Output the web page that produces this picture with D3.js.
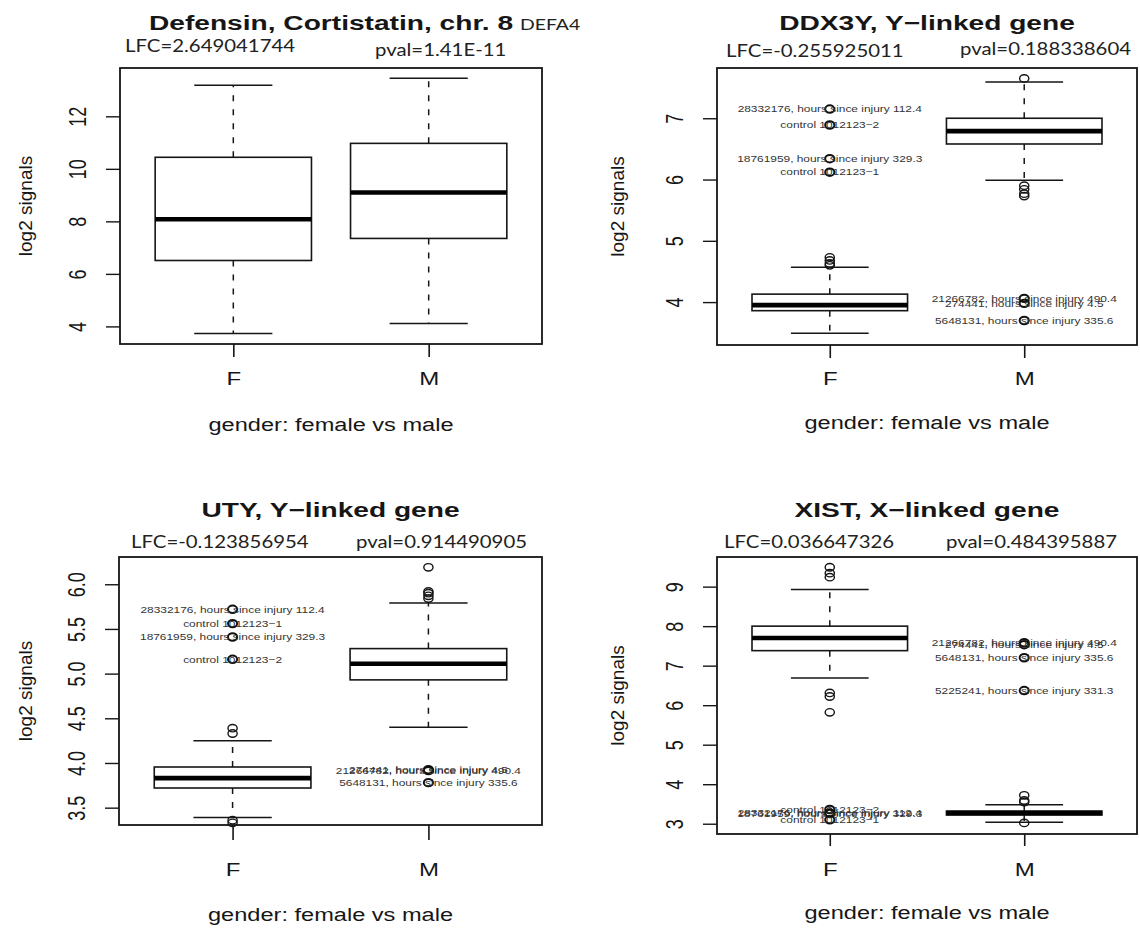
<!DOCTYPE html>
<html>
<head>
<meta charset="utf-8">
<script src="https://cdn.jsdelivr.net/npm/d3@7"></script>
<style>
  body { margin: 0; background: #fff; }
</style>
</head>
<body>
<svg id="fig" width="1140" height="928"></svg>
<script>
// ---------- data ----------
const groups = ["F", "M"];
const xAxisTitle = "gender: female vs male";
const yAxisTitle = "log2 signals";

// box statistics: [lower whisker, Q1, median, Q3, upper whisker]
const defensinTitle = "Defensin, Cortistatin, chr. 8";
const defensinGene = "DEFA4";
const defensinLFC = "LFC=2.649041744";
const defensinPval = "pval=1.41E-11";
const defensinF = [3.73, 6.51, 8.08, 10.44, 13.18];
const defensinM = [4.11, 7.35, 9.10, 10.97, 13.45];
const defensinOutF = [];
const defensinOutM = [];
const defensinTicks = [4, 6, 8, 10, 12];
const defensinTickLabels = ["4", "6", "8", "10", "12"];
const defensinLabelText = [];
const defensinLabelGroup = [];
const defensinLabelValue = [];

const ddx3yTitle = "DDX3Y, Y\u2212linked gene";
const ddx3yLFC = "LFC=-0.255925011";
const ddx3yPval = "pval=0.188338604";
const ddx3yF = [3.49, 3.86, 3.95, 4.13, 4.57];
const ddx3yM = [5.99, 6.58, 6.79, 7.00, 7.59];
const ddx3yOutF = [4.73, 4.68, 4.63, 4.60];
const ddx3yOutM = [7.65, 5.90, 5.84, 5.77, 5.73];
const ddx3yTicks = [4, 5, 6, 7];
const ddx3yTickLabels = ["4", "5", "6", "7"];
const ddx3yLabelText = [
  "28332176, hours since injury 112.4",
  "control 1012123\u22122",
  "18761959, hours since injury 329.3",
  "control 1012123\u22121",
  "21266782, hours since injury 490.4",
  "274441, hours since injury 4.5",
  "5648131, hours since injury 335.6"
];
const ddx3yLabelGroup = ["F", "F", "F", "F", "M", "M", "M"];
const ddx3yLabelValue = [7.15, 6.89, 6.34, 6.12, 4.06, 3.98, 3.70];

const utyTitle = "UTY, Y\u2212linked gene";
const utyLFC = "LFC=-0.123856954";
const utyPval = "pval=0.914490905";
const utyF = [3.39, 3.72, 3.83, 3.955, 4.25];
const utyM = [4.40, 4.93, 5.11, 5.28, 5.79];
const utyOutF = [4.39, 4.33, 3.36, 3.33];
const utyOutM = [6.19, 5.92, 5.90, 5.87, 5.84];
const utyTicks = [3.5, 4.0, 4.5, 5.0, 5.5, 6.0];
const utyTickLabels = ["3.5", "4.0", "4.5", "5.0", "5.5", "6.0"];
const utyLabelText = [
  "28332176, hours since injury 112.4",
  "control 1012123\u22121",
  "18761959, hours since injury 329.3",
  "control 1012123\u22122",
  "274441, hours since injury 4.5",
  "21266782, hours since injury 490.4",
  "5648131, hours since injury 335.6"
];
const utyLabelGroup = ["F", "F", "F", "F", "M", "M", "M"];
const utyLabelValue = [5.72, 5.56, 5.41, 5.16, 3.925, 3.915, 3.78];

const xistTitle = "XIST, X\u2212linked gene";
const xistLFC = "LFC=0.036647326";
const xistPval = "pval=0.484395887";
const xistF = [6.69, 7.38, 7.70, 8.00, 8.93];
const xistM = [3.04, 3.22, 3.27, 3.32, 3.48];
const xistOutF = [9.49, 9.34, 9.24, 6.31, 6.22, 5.82];
const xistOutM = [3.72, 3.59, 3.55, 3.02];
const xistTicks = [3, 4, 5, 6, 7, 8, 9];
const xistTickLabels = ["3", "4", "5", "6", "7", "8", "9"];
const xistLabelText = [
  "21266782, hours since injury 490.4",
  "274441, hours since injury 4.5",
  "5648131, hours since injury 335.6",
  "5225241, hours since injury 331.3",
  "control 1012123\u22122",
  "28332176, hours since injury 112.4",
  "18761959, hours since injury 329.3",
  "control 1012123\u22121"
];
const xistLabelGroup = ["M", "M", "M", "M", "F", "F", "F", "F"];
const xistLabelValue = [7.58, 7.53, 7.20, 6.37, 3.36, 3.27, 3.26, 3.10];

// ---------- layout ----------
const SANS = "'Liberation Sans', Arial, Helvetica, sans-serif";
const SOFT = "Lato, 'Open Sans', sans-serif";
const INK = "#161616";
const STRETCH = 1.3;   // horizontal widening of the plot lettering

const panels = [
  { title: defensinTitle, gene: defensinGene, lfc: defensinLFC, pval: defensinPval,
    stats: [defensinF, defensinM], out: [defensinOutF, defensinOutM],
    ticks: defensinTicks, tickLabels: defensinTickLabels,
    labText: defensinLabelText, labGroup: defensinLabelGroup, labValue: defensinLabelValue,
    box: { left: 120, right: 542, top: 68, bottom: 344 }, yDomain: [3.33, 13.84],
    titleY: 30, geneX: 520, lfcX: 125, lfcY: 52, pvalX: 375, pvalY: 56,
    xTick: 13, groupY: 384.5, xTitleY: 431, yTitleX: 32 },
  { title: ddx3yTitle, lfc: ddx3yLFC, pval: ddx3yPval,
    stats: [ddx3yF, ddx3yM], out: [ddx3yOutF, ddx3yOutM],
    ticks: ddx3yTicks, tickLabels: ddx3yTickLabels,
    labText: ddx3yLabelText, labGroup: ddx3yLabelGroup, labValue: ddx3yLabelValue,
    box: { left: 717, right: 1137, top: 68, bottom: 345 }, yDomain: [3.30, 7.82],
    titleY: 30, lfcX: 726, lfcY: 57, pvalX: 960, pvalY: 55,
    xTick: 13, groupY: 385, xTitleY: 429, yTitleX: 624 },
  { title: utyTitle, lfc: utyLFC, pval: utyPval,
    stats: [utyF, utyM], out: [utyOutF, utyOutM],
    ticks: utyTicks, tickLabels: utyTickLabels,
    labText: utyLabelText, labGroup: utyLabelGroup, labValue: utyLabelValue,
    box: { left: 119, right: 542, top: 557, bottom: 825 }, yDomain: [3.306, 6.305],
    titleY: 517, lfcX: 131, lfcY: 548, pvalX: 356, pvalY: 548,
    xTick: 15, groupY: 876, xTitleY: 921, yTitleX: 32 },
  { title: xistTitle, lfc: xistLFC, pval: xistPval,
    stats: [xistF, xistM], out: [xistOutF, xistOutM],
    ticks: xistTicks, tickLabels: xistTickLabels,
    labText: xistLabelText, labGroup: xistLabelGroup, labValue: xistLabelValue,
    box: { left: 717, right: 1137, top: 557, bottom: 834 }, yDomain: [2.74, 9.75],
    titleY: 517, lfcX: 724, lfcY: 548, pvalX: 946, pvalY: 548,
    xTick: 12, groupY: 876, xTitleY: 919, yTitleX: 624 }
];

const svg = d3.select("#fig");
svg.append("rect").attr("width", 1140).attr("height", 928).attr("fill", "#fff");

function label(g, str, x, y, o) {
  let tf = `translate(${x},${y}) scale(${o.sx == null ? STRETCH : o.sx},1)`;
  if (o.rotate) tf += ` rotate(${o.rotate})`;
  const t = g.append("text")
    .attr("transform", tf)
    .attr("text-anchor", o.anchor || "middle")
    .style("font-family", o.family || SANS)
    .style("font-size", o.size + "px")
    .style("font-weight", o.weight || "normal")
    .attr("fill", o.fill || INK)
    .text(str);
  if (o.dy) t.attr("dy", o.dy);
  return t;
}

panels.forEach(p => {
  const g = svg.append("g");
  const b = p.box;
  const x = d3.scaleLinear().domain([0.42, 2.58]).range([b.left, b.right]);
  const y = d3.scaleLinear().domain(p.yDomain).range([b.bottom, b.top]);
  const gx = i => x(groups.indexOf(i) + 1);

  // headings
  label(g, p.title, (b.left + b.right) / 2, p.titleY, { size: 21, weight: "bold", sx: 1.34 });
  if (p.gene) label(g, p.gene, p.geneX, p.titleY, { size: 15.3, family: SOFT, anchor: "start", sx: 1.27, fill: "#222" });
  label(g, p.lfc, p.lfcX, p.lfcY, { size: 16.7, family: SOFT, anchor: "start", sx: 1.22, fill: "#222" });
  label(g, p.pval, p.pvalX, p.pvalY, { size: 16.7, family: SOFT, anchor: "start", sx: 1.22, fill: "#222" });

  // y axis
  const yAxis = g.append("g").attr("transform", `translate(${b.left},0)`)
    .call(d3.axisLeft(y).tickValues(p.ticks).tickSize(14).tickSizeOuter(0)
      .tickFormat((d, i) => p.tickLabels[i]));
  yAxis.select(".domain").remove();
  yAxis.selectAll(".tick line").attr("stroke", INK).attr("stroke-width", 1.4);
  yAxis.selectAll(".tick text")
    .attr("x", null).attr("dy", null).attr("fill", INK)
    .attr("text-anchor", "middle")
    .attr("transform", `translate(-34,0) scale(${STRETCH},1) rotate(-90)`)
    .style("font-family", SANS).style("font-size", "18px");

  // x axis
  const xAxis = g.append("g").attr("transform", `translate(0,${b.bottom})`)
    .call(d3.axisBottom(x).tickValues([1, 2]).tickSize(p.xTick).tickSizeOuter(0)
      .tickFormat(d => groups[d - 1]));
  xAxis.select(".domain").remove();
  xAxis.selectAll(".tick line").attr("stroke", INK).attr("stroke-width", 1.6);
  xAxis.selectAll(".tick text")
    .attr("y", null).attr("dy", null).attr("fill", INK)
    .attr("transform", `translate(0,${p.groupY - b.bottom}) scale(${STRETCH},1)`)
    .style("font-family", SANS).style("font-size", "18.5px");

  label(g, xAxisTitle, (b.left + b.right) / 2, p.xTitleY, { size: 18, sx: 1.31 });
  label(g, yAxisTitle, p.yTitleX, (b.top + b.bottom) / 2, { size: 19, sx: 1.0, rotate: -90 });

  // boxes
  const boxW = x(1.4) - x(1);
  const capW = x(1.2) - x(1);
  groups.forEach((grp, i) => {
    const s = p.stats[i];
    const cx = gx(grp);
    const bg = g.append("g");
    bg.append("line").attr("x1", cx).attr("x2", cx).attr("y1", y(s[3])).attr("y2", y(s[4]))
      .attr("stroke", INK).attr("stroke-width", 1.5).attr("stroke-dasharray", "6,8");
    bg.append("line").attr("x1", cx).attr("x2", cx).attr("y1", y(s[1])).attr("y2", y(s[0]))
      .attr("stroke", INK).attr("stroke-width", 1.5).attr("stroke-dasharray", "6,8");
    [s[0], s[4]].forEach(v => bg.append("line")
      .attr("x1", cx - capW).attr("x2", cx + capW).attr("y1", y(v)).attr("y2", y(v))
      .attr("stroke", INK).attr("stroke-width", 1.5));
    bg.append("rect").attr("x", cx - boxW).attr("width", 2 * boxW)
      .attr("y", y(s[3])).attr("height", y(s[1]) - y(s[3]))
      .attr("fill", "#fff").attr("stroke", INK).attr("stroke-width", 1.6);
    bg.append("line").attr("x1", cx - boxW).attr("x2", cx + boxW)
      .attr("y1", y(s[2])).attr("y2", y(s[2]))
      .attr("stroke", "#000").attr("stroke-width", 4.6);
    p.out[i].forEach(v => bg.append("ellipse")
      .attr("cx", cx).attr("cy", y(v)).attr("rx", 4.6).attr("ry", 3.7)
      .attr("fill", "none").attr("stroke", INK).attr("stroke-width", 1.4));
  });

  // named samples
  p.labText.forEach((txt, i) => {
    const cx = gx(p.labGroup[i]);
    const cy = y(p.labValue[i]);
    g.append("ellipse").attr("cx", cx).attr("cy", cy).attr("rx", 4.6).attr("ry", 3.7)
      .attr("fill", "none").attr("stroke", "#111").attr("stroke-width", 2);
    label(g, txt, cx, cy, { size: 9.3, sx: 1.28, dy: "0.35em", fill: "#333" });
  });

  // plot frame
  g.append("rect").attr("x", b.left).attr("y", b.top)
    .attr("width", b.right - b.left).attr("height", b.bottom - b.top)
    .attr("fill", "none").attr("stroke", INK).attr("stroke-width", 1.8);
});
</script>
</body>
</html>
